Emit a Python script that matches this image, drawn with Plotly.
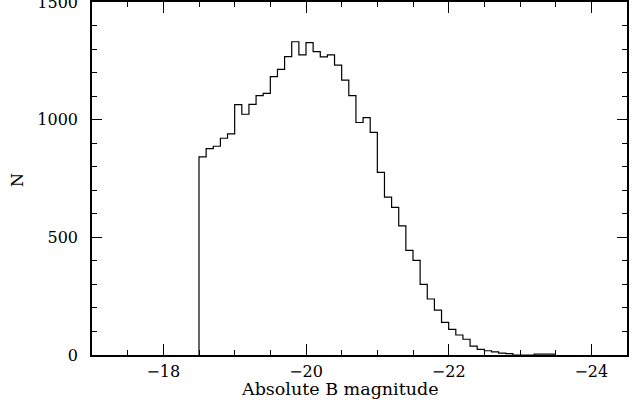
import numpy as np
import plotly.graph_objects as go

# Histogram of absolute B magnitudes, bins of 0.1 mag starting at -18.5 (going brighter)
bin_start = -18.5
bin_width = -0.1
counts = [842, 877, 887, 921, 940, 1064, 1023, 1065, 1102, 1112,
          1183, 1214, 1268, 1331, 1275, 1327, 1289, 1267, 1275, 1232,
          1168, 1102, 988, 1009, 946, 776, 671, 627, 549, 445,
          402, 300, 238, 191, 139, 109, 85, 67, 38, 24,
          18, 13, 8, 6, 0, 0, 0, 4, 4, 4]

x_tickvals = [-18, -20, -22, -24]
x_ticktext = ["\u221218", "\u221220", "\u221222", "\u221224"]
y_tickvals = [0, 500, 1000, 1500]
y_ticktext = ["0", "500", "1000", "1500"]
x_title = "Absolute B magnitude"
y_title = "N"

edges = bin_start + bin_width * np.arange(len(counts) + 1)
xs = np.concatenate([[edges[0]], edges])
ys = np.concatenate([[0], counts, [counts[-1]]])

FONT = "DejaVu Serif"

fig = go.Figure()
fig.add_trace(go.Scatter(x=xs, y=ys, mode="lines", line=dict(shape="hv", color="black", width=1.2),
                         hoverinfo="skip", showlegend=False, cliponaxis=True))

fig.update_layout(
    width=642, height=411,
    margin=dict(l=92, r=15, t=2, b=56),
    paper_bgcolor="white", plot_bgcolor="white",
    font=dict(family=FONT, size=15, color="black"),
    showlegend=False,
    annotations=[
        dict(text=x_title, xref="paper", yref="paper", x=0.4636, y=-0.097,
             xanchor="center", yanchor="middle", showarrow=False,
             font=dict(family=FONT, size=17.5, color="black")),
        dict(text=y_title, xref="paper", yref="paper", x=-0.138, y=0.496,
             xanchor="center", yanchor="middle", showarrow=False, textangle=-90,
             font=dict(family=FONT, size=16, color="black")),
    ],
)
fig.update_xaxes(
    range=[-17, -24.5], autorange=False, automargin=False,
    tickmode="array", tickvals=x_tickvals, ticktext=x_ticktext,
    ticks="inside", ticklen=11, tickwidth=1.2, tickcolor="black",
    minor=dict(dtick=0.5, tick0=0, ticks="inside", ticklen=5.5, tickwidth=1.2, tickcolor="black"),
    showline=True, linecolor="black", linewidth=1.5, mirror="ticks",
    showgrid=False, zeroline=False,
    tickfont=dict(family=FONT, size=16),
    ticklabelstandoff=1, ticklabeloverflow="allow",
)
fig.update_yaxes(
    range=[0, 1500], autorange=False, automargin=False,
    tickmode="array", tickvals=y_tickvals, ticktext=y_ticktext,
    ticks="inside", ticklen=10, tickwidth=1.2, tickcolor="black",
    minor=dict(dtick=100, tick0=0, ticks="inside", ticklen=5.5, tickwidth=1.2, tickcolor="black"),
    showline=True, linecolor="black", linewidth=1.5, mirror="ticks",
    showgrid=False, zeroline=False,
    tickfont=dict(family=FONT, size=16),
    ticklabelstandoff=9, ticklabeloverflow="allow",
)

fig.write_html("out.html", config={"displayModeBar": False},
               post_script="document.body.style.margin='0';document.body.style.padding='0';")
